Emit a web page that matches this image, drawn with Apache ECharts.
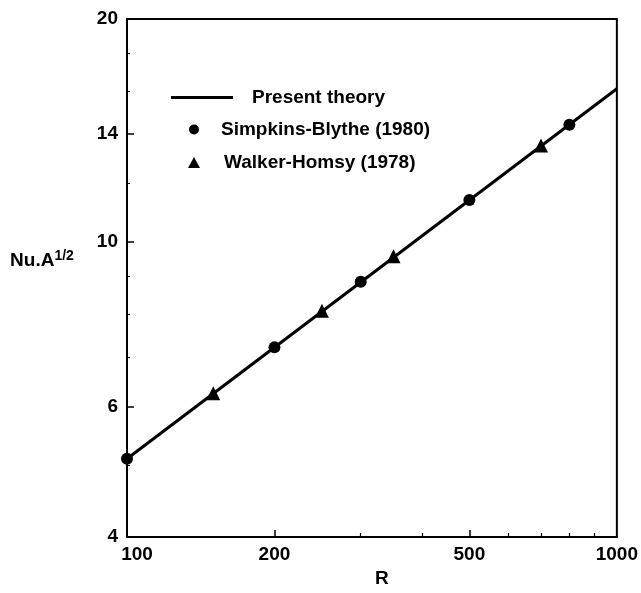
<!DOCTYPE html>
<html>
<head>
<meta charset="utf-8">
<script src="https://cdn.jsdelivr.net/npm/echarts@6/dist/echarts.min.js"></script>
<style>html,body{margin:0;padding:0;background:#fff;}#c{width:641px;height:593px;}</style>
</head>
<body>
<div id="c"></div>
<script>
// Data
const theoryR = [100, 1000];
const theoryNu = [5.1, 16.1];
const sbR = [100, 200, 300, 500, 800];
const sbNu = [5.10, 7.21, 8.84, 11.40, 14.4];
const whR = [150, 250, 350, 700];
const whNu = [6.25, 8.08, 9.57, 13.5];
const xLabels = [100, 200, 500, 1000];
const xMajorTicks = [200, 500];
const xMinorTicks = [300, 400, 600, 700, 800, 900];
const yLabels = [4, 6, 10, 14, 20];
const yMajorTicks = [6, 10, 14];
const yMinorTicks = [5, 7, 8, 9, 12, 16, 18];

const pair = (xs, ys) => xs.map((x, i) => [x, ys[i]]);
const FONT = 'Liberation Sans, Arial, Helvetica, sans-serif';
const txt = {color: '#000', fontFamily: FONT, fontWeight: 'bold', fontSize: 19};

const chart = echarts.init(document.getElementById('c'), null, {renderer: 'canvas'});
chart.setOption({
  animation: false,
  backgroundColor: '#fff',
  grid: {left: 127, right: 23, top: 19, bottom: 54, show: true, borderColor: '#000', borderWidth: 2, backgroundColor: 'transparent'},
  legend: [
    {data: [{name: 'Present theory', icon: 'rect'}], left: 171, top: 88, padding: 0, itemWidth: 62, itemHeight: 3,
      itemStyle: {color: '#000'},
      textStyle: Object.assign({}, txt, {padding: [0, 0, 0, 14]}), selectedMode: false},
    {data: ['Simpkins-Blythe (1980)'], left: 189, top: 120, padding: 0, itemWidth: 10, itemHeight: 10,
      textStyle: Object.assign({}, txt, {padding: [0, 0, 0, 17]}), selectedMode: false},
    {data: ['Walker-Homsy (1978)'], left: 188, top: 153, padding: 0, itemWidth: 12, itemHeight: 11,
      textStyle: Object.assign({}, txt, {padding: [0, 0, 0, 19]}), selectedMode: false}
  ],
  xAxis: [
    {type: 'log', logBase: 10, min: 100, max: 1000, name: 'R', nameLocation: 'middle', nameGap: 32,
      nameTextStyle: Object.assign({}, txt, {padding: [0, 0, 0, 20]}),
      axisLine: {show: true, lineStyle: {color: '#000', width: 2}},
      axisTick: {show: true, inside: true, length: 7, customValues: xMajorTicks, lineStyle: {color: '#000', width: 1.5}},
      axisLabel: Object.assign({}, txt, {margin: 8, customValues: xLabels,
        formatter: v => v === 100 ? '{a|100}' : String(v),
        rich: {a: Object.assign({}, txt, {padding: [0, 0, 0, 20]})}}),
      splitLine: {show: false}, minorTick: {show: false}},
    {type: 'log', logBase: 10, min: 100, max: 1000, position: 'bottom',
      axisLine: {show: false},
      axisTick: {show: true, inside: true, length: 4, customValues: xMinorTicks, lineStyle: {color: '#000', width: 1.2}},
      axisLabel: {show: false}, splitLine: {show: false}}
  ],
  yAxis: [
    {type: 'log', logBase: 10, min: 4, max: 20,
      name: 'Nu.A{s|1/2}', nameLocation: 'middle', nameRotate: 0, nameGap: 73,
      nameTextStyle: Object.assign({}, txt, {align: 'center', padding: [0, 24, 34, 0],
        rich: {s: Object.assign({}, txt, {fontSize: 14, verticalAlign: 'bottom', padding: [0, 0, 10, 0]})}}),
      axisLine: {show: true, lineStyle: {color: '#000', width: 2}},
      axisTick: {show: true, inside: true, length: 7, customValues: yMajorTicks, lineStyle: {color: '#000', width: 1.5}},
      axisLabel: Object.assign({}, txt, {margin: 9, customValues: yLabels}),
      splitLine: {show: false}},
    {type: 'log', logBase: 10, min: 4, max: 20, position: 'left',
      axisLine: {show: false},
      axisTick: {show: true, inside: true, length: 3, customValues: yMinorTicks, lineStyle: {color: '#000', width: 1}},
      axisLabel: {show: false}, splitLine: {show: false}}
  ],
  series: [
    {name: 'Present theory', type: 'line', data: pair(theoryR, theoryNu), symbol: 'none',
      lineStyle: {color: '#000', width: 3}, itemStyle: {color: '#000'}, clip: false},
    {name: 'Simpkins-Blythe (1980)', type: 'scatter', data: pair(sbR, sbNu), symbol: 'circle', symbolSize: 12,
      itemStyle: {color: '#000', opacity: 1}, clip: false},
    {name: 'Walker-Homsy (1978)', type: 'scatter', data: pair(whR, whNu), symbol: 'triangle', symbolSize: 14,
      itemStyle: {color: '#000', opacity: 1}, clip: false}
  ]
});
</script>
</body>
</html>
